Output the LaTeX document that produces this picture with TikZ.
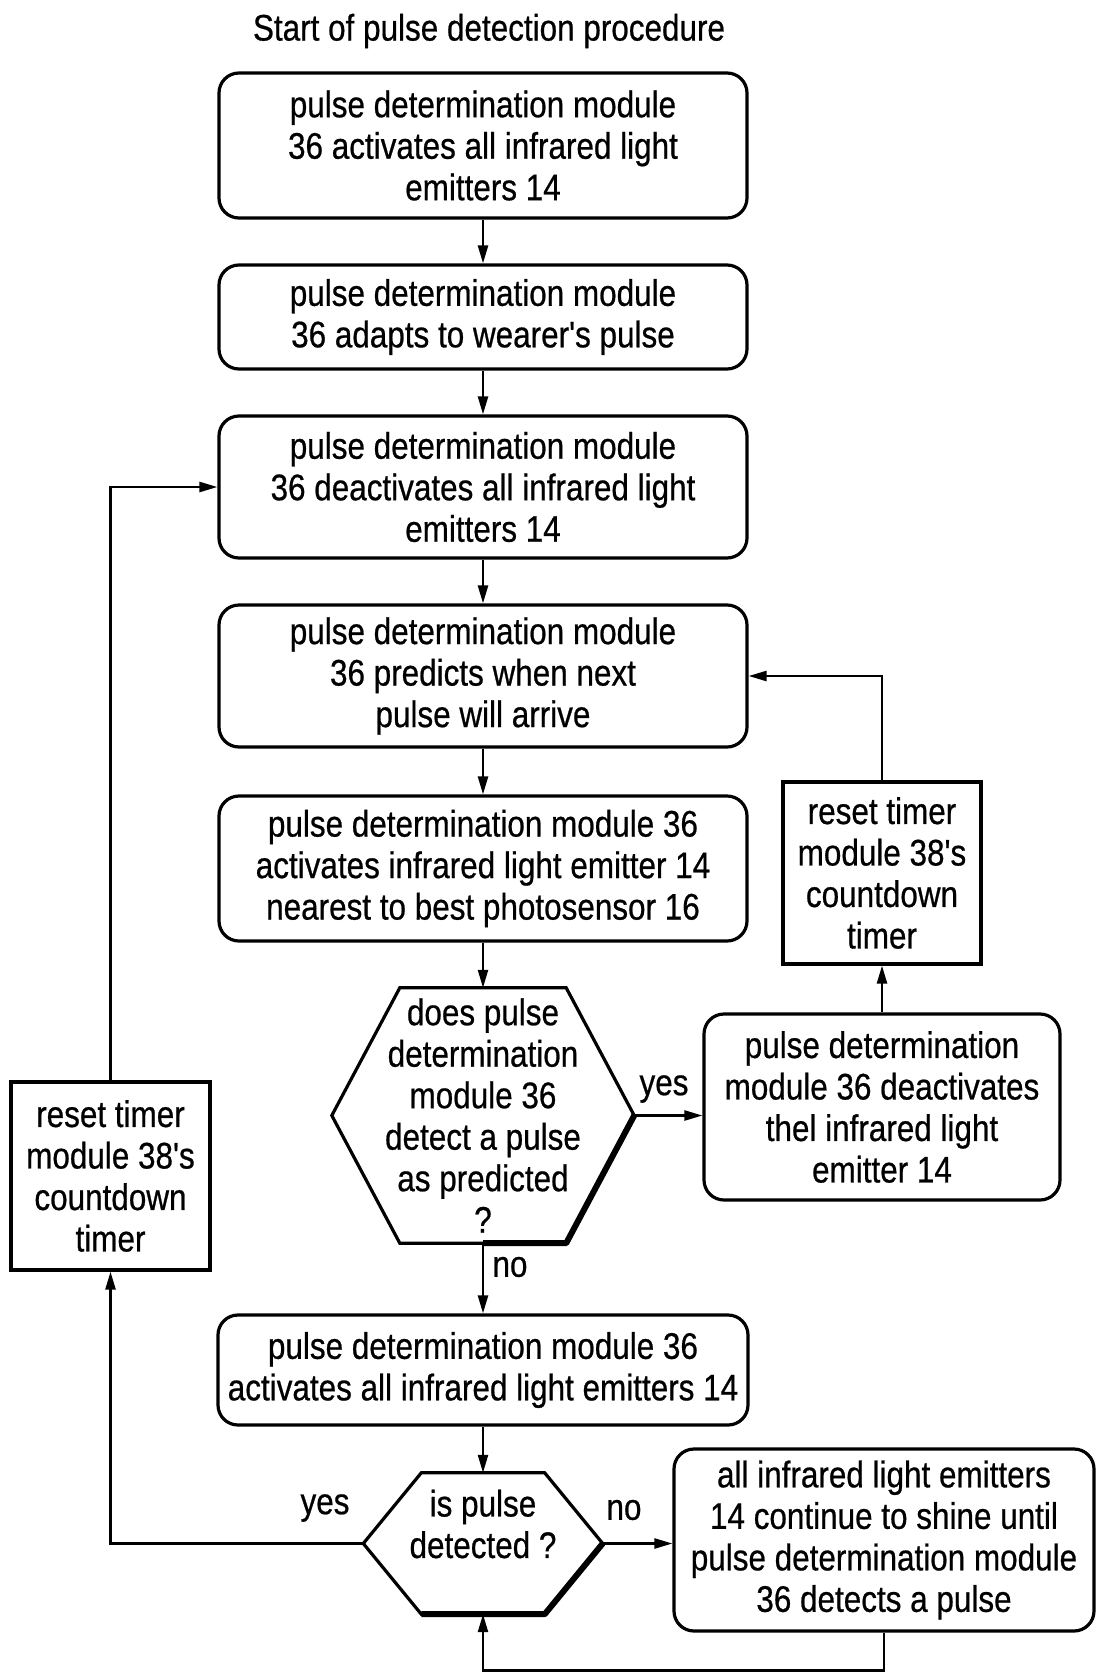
\documentclass[tikz,border=0pt]{standalone}
\usepackage{fontspec}
\setmainfont{Liberation Sans}[FakeStretch=0.85,FakeBold=0.6,Ligatures=TeXOff]
\usetikzlibrary{arrows.meta,calc}
\begin{document}
\begin{tikzpicture}[x=1pt,y=-1pt,
  every node/.style={font=\fontsize{37}{41.5}\selectfont},
  rbox/.style={draw,line width=3.2pt,rounded corners=20pt,align=center,inner sep=0pt},
  sbox/.style={draw,line width=3.2pt,align=center,inner sep=0pt},
  hexnode/.style={align=center,inner sep=0pt},
  hexline/.style={line width=3.2pt,line join=miter},
  hexshade/.style={line width=6pt,line join=round},
  conn/.style={line width=2.4pt,-{Triangle[length=18pt,width=10pt]}},
  lbl/.style={inner sep=0pt},
]
\useasboundingbox (0,0) rectangle (1096,1673);

\node[lbl] (title) at (489,31) {Start of pulse detection procedure};

\node[rbox,minimum width=528pt,minimum height=145pt] (b1) at (483,145.5)
  {pulse determination module\\36 activates all infrared light\\emitters 14};
\node[rbox,minimum width=528pt,minimum height=104pt] (b2) at (483,317)
  {pulse determination module\\36 adapts to wearer's pulse};
\node[rbox,minimum width=528pt,minimum height=142pt] (b3) at (483,487)
  {pulse determination module\\36 deactivates all infrared light\\emitters 14};
\node[rbox,minimum width=528pt,minimum height=142pt] (b4) at (483,676)
  {pulse determination module\\36 predicts when next\\pulse will arrive};
\node[rbox,minimum width=528pt,minimum height=145pt] (b5) at (483,868.5)
  {pulse determination module 36\\activates infrared light emitter 14\\nearest to best photosensor 16};

\node[hexnode,minimum width=302pt,minimum height=255pt] (h1) at (483,1115.5)
  {does pulse\\determination\\module 36\\detect a pulse\\as predicted\\?};
\draw[hexline] (h1.west) -- ($(h1.north west)+(68,0)$) -- ($(h1.north east)+(-68,0)$)
  -- (h1.east) -- ($(h1.south east)+(-68,0)$) -- ($(h1.south west)+(68,0)$) -- cycle;
\draw[hexshade] (h1.east) -- ($(h1.south east)+(-68,0)$) -- (h1.south);

\node[rbox,minimum width=356pt,minimum height=186pt] (d1) at (882,1107)
  {pulse determination\\module 36 deactivates\\thel infrared light\\emitter 14};
\node[sbox,minimum width=198pt,minimum height=182pt] (r2) at (882,873)
  {reset timer\\module 38's\\countdown\\timer};
\node[sbox,minimum width=199pt,minimum height=188pt] (r1) at (110.5,1176)
  {reset timer\\module 38's\\countdown\\timer};

\node[rbox,minimum width=530pt,minimum height=110pt] (b6) at (483,1370)
  {pulse determination module 36\\activates all infrared light emitters 14};

\node[minimum width=239pt,minimum height=141pt,inner sep=0pt] (h2) at (483,1543.5) {};
\node[hexnode] (h2t) at (483,1524) {is pulse\\detected ?};
\draw[hexline] (h2.west) -- ($(h2.north west)+(58,0)$) -- ($(h2.north east)+(-58,0)$)
  -- (h2.east) -- ($(h2.south east)+(-58,0)$) -- ($(h2.south west)+(58,0)$) -- cycle;
\draw[hexshade] (h2.east) -- ($(h2.south east)+(-58,0)$) -- ($(h2.south west)+(58,0)$);

\node[rbox,minimum width=420pt,minimum height=182pt] (f1) at (884,1540)
  {all infrared light emitters\\14 continue to shine until\\pulse determination module\\36 detects a pulse};

% connectors
\draw[conn] (b1.south) -- (b2.north);
\draw[conn] (b2.south) -- (b3.north);
\draw[conn] (b3.south) -- (b4.north);
\draw[conn] (b4.south) -- (b5.north);
\draw[conn] (b5.south) -- (h1.north);
\draw[conn] (h1.east) -- (h1.east -| d1.west);
\draw[conn] (d1.north) -- (r2.south);
\draw[conn] (r2.north) |- (b4.east);
\draw[conn] (h1.south) -- (b6.north);
\draw[conn] (b6.south) -- (h2.north);
\draw[conn] (h2.west) -| (r1.south);
\draw[conn] (r1.north) |- (b3.west);
\draw[conn] (h2.east) -- (h2.east -| f1.west);
\coordinate (loop) at ($(f1.south)+(0,38)$);
\draw[conn] (f1.south) -- (loop) -| (h2.south);

% labels
\node[lbl] (yes1) at (664,1089) {yes};
\node[lbl] (no1) at (510,1267) {no};
\node[lbl] (yes2) at (325,1508) {yes};
\node[lbl] (no2) at (624,1510) {no};
\end{tikzpicture}
\end{document}
